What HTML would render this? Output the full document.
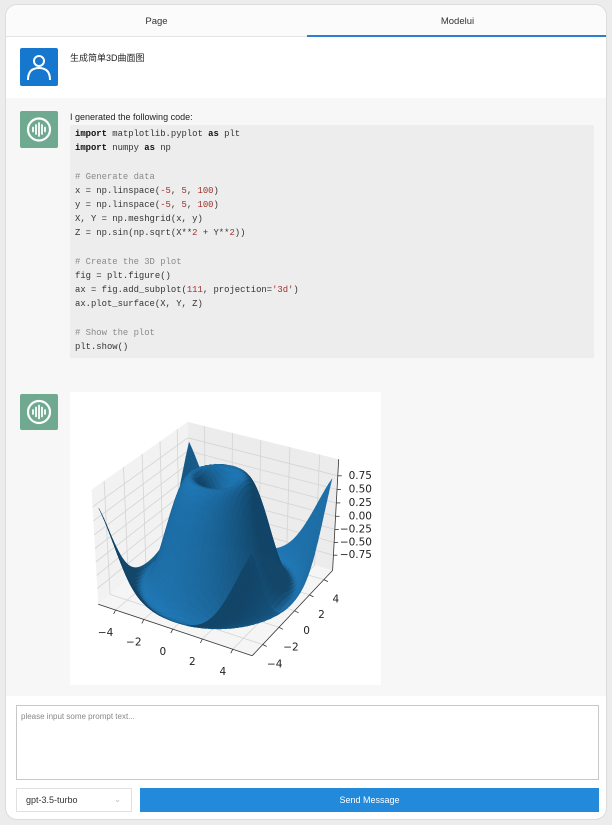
<!DOCTYPE html>
<html><head><meta charset="utf-8">
<style>
*{box-sizing:border-box;margin:0;padding:0}
body{width:612px;height:825px;background:#ececec;font-family:"Liberation Sans","Noto Sans CJK SC",sans-serif;position:relative;overflow:hidden}
#card{position:absolute;left:5px;top:4px;width:602px;height:816px;background:#fff;border-radius:12px;border:1px solid #dcdcdc;overflow:hidden}
.abs{position:absolute}
.tab{position:absolute;top:0;height:31px;width:301px;text-align:center;font-size:9.5px;line-height:34px;color:#333}
.code{position:absolute;left:64px;top:120px;width:524px;height:233px;background:#ededee}
.code pre{font-family:"Liberation Mono",monospace;font-size:8.9px;line-height:14.2px;color:#333;position:absolute;left:5px;top:2px}
.kw{font-weight:bold;color:#111}.cm{color:#8a8a8a}.nm{color:#a0302a}.st{color:#a0302a}
</style></head><body>
<div id="card">
  <div class="abs" style="left:0;top:0;width:602px;height:32px;border-bottom:1px solid #e4e4e4;background:#fbfbfb"></div>
  <div class="tab" style="left:0">Page</div>
  <div class="tab" style="left:301px">Modelui</div>
  <div class="abs" style="left:301px;top:30px;width:301px;height:2px;background:#2a7fd0"></div>

  <div class="abs" style="left:0;top:32px;width:602px;height:61px;background:#fff"></div>
  <div class="abs" style="left:14px;top:43px;width:38px;height:38px;background:#1677cf;border-radius:2px">
    <svg width="38" height="38"><circle cx="19" cy="13" r="5" fill="none" stroke="#fff" stroke-width="2"/><path d="M8 32 Q8 20 19 20 Q30 20 30 32" fill="none" stroke="#fff" stroke-width="2"/></svg>
  </div>
  <div class="abs" style="left:64px;top:46px;font-size:9px;color:#222">生成简单3D曲面图</div>

  <div class="abs" style="left:0;top:93px;width:602px;height:598px;background:#f7f7f8"></div>
  <div class="abs" style="left:14px;top:106px;width:38px;height:37px;background:#6fa98f;border-radius:2px">
    <svg width="38" height="37"><circle cx="19" cy="18.5" r="11" fill="none" stroke="#fff" stroke-width="2.2"/><g stroke="#fff" stroke-width="1.8" stroke-linecap="round"><line x1="13" y1="16.5" x2="13" y2="20.5"/><line x1="16" y1="14" x2="16" y2="23"/><line x1="19" y1="12" x2="19" y2="25"/><line x1="22" y1="14" x2="22" y2="23"/><line x1="25" y1="16.5" x2="25" y2="20.5"/></g></svg>
  </div>
  <div class="abs" style="left:64px;top:107px;font-size:9px;color:#222">I generated the following code:</div>
  <div class="code"><pre><span class="kw">import</span> matplotlib.pyplot <span class="kw">as</span> plt
<span class="kw">import</span> numpy <span class="kw">as</span> np

<span class="cm"># Generate data</span>
x = np.linspace(<span class="nm">-5</span>, <span class="nm">5</span>, <span class="nm">100</span>)
y = np.linspace(<span class="nm">-5</span>, <span class="nm">5</span>, <span class="nm">100</span>)
X, Y = np.meshgrid(x, y)
Z = np.sin(np.sqrt(X**<span class="nm">2</span> + Y**<span class="nm">2</span>))

<span class="cm"># Create the 3D plot</span>
fig = plt.figure()
ax = fig.add_subplot(<span class="nm">111</span>, projection=<span class="st">'3d'</span>)
ax.plot_surface(X, Y, Z)

<span class="cm"># Show the plot</span>
plt.show()</pre></div>

  <div class="abs" style="left:14px;top:389px;width:38px;height:36px;background:#6fa98f;border-radius:2px">
    <svg width="38" height="36"><circle cx="19" cy="18" r="11" fill="none" stroke="#fff" stroke-width="2.2"/><g stroke="#fff" stroke-width="1.8" stroke-linecap="round"><line x1="13" y1="16" x2="13" y2="20"/><line x1="16" y1="13.5" x2="16" y2="22.5"/><line x1="19" y1="11.5" x2="19" y2="24.5"/><line x1="22" y1="13.5" x2="22" y2="22.5"/><line x1="25" y1="16" x2="25" y2="20"/></g></svg>
  </div>
  <div class="abs" style="left:64px;top:387px;width:311px;height:293px;background:#fff"></div>

  <div class="abs" style="left:10px;top:700px;width:583px;height:75px;border:1px solid #c8c8c8;background:#fff;font-size:8px;color:#888;padding:6px 4px">please input some prompt text...</div>
  <div class="abs" style="left:10px;top:783px;width:116px;height:24px;border:1px solid #e0e0e0;background:#fff;font-size:9px;color:#333;line-height:22px;padding-left:9px">gpt-3.5-turbo<span style="position:absolute;right:10px;top:0;color:#bbb;font-size:8px">&#8964;</span></div>
  <div class="abs" style="left:134px;top:783px;width:459px;height:24px;background:#2389db;color:#fff;font-size:9px;text-align:center;line-height:24px">Send Message</div>
</div>

<svg id="chart" width="612" height="825" style="position:absolute;left:0;top:0;pointer-events:none"></svg>

<script>
const xTicks=[-4,-2,0,2,4];
const yTicks=[-4,-2,0,2,4];
const zTicks=[-0.75,-0.5,-0.25,0,0.25,0.5,0.75];
const zTickLabels=["−0.75","−0.50","−0.25","0.00","0.25","0.50","0.75"];
const xLim=[-5.25,5.25];
const yLim=[-5.25,5.25];
const zLim=[-1.05,1.05];
const gridN=50;
const gridMin=-5, gridMax=5;

const NS="http://www.w3.org/2000/svg";
const svg=document.getElementById('chart');
const ca=Math.cos(-60*Math.PI/180), sa=Math.sin(-60*Math.PI/180);
const ce=Math.cos(30*Math.PI/180), se=Math.sin(30*Math.PI/180);
const eye=[ce*ca,ce*sa,se], R=[-sa,ca,0], U=[-se*ca,-se*sa,ce];
const D=7,S=176,CX=218,CY=532;
function world(x,y,z){return [(x-xLim[0])/(xLim[1]-xLim[0])-0.5,(y-yLim[0])/(yLim[1]-yLim[0])-0.5,((z-zLim[0])/(zLim[1]-zLim[0])-0.5)*0.74];}
function dot(a,b){return a[0]*b[0]+a[1]*b[1]+a[2]*b[2];}
function proj(x,y,z){const P=world(x,y,z);const d=dot(P,eye);const k=D/(D-d);return [CX+S*dot(P,R)*k,CY-S*dot(P,U)*k,d];}
function mk(tag,attrs){const e=document.createElementNS(NS,tag);for(const k in attrs)e.setAttribute(k,attrs[k]);svg.appendChild(e);return e;}
function poly(pts){return pts.map(p=>p[0].toFixed(1)+','+p[1].toFixed(1)).join(' ');}

const x0=xLim[0],x1=xLim[1],y0=yLim[0],y1=yLim[1],z0=zLim[0],z1=zLim[1];
let p;
p=mk('polygon',{points:poly([proj(x0,y0,z0),proj(x0,y1,z0),proj(x0,y1,z1),proj(x0,y0,z1)]),fill:'#f2f2f2',stroke:'none'});

p=mk('polygon',{points:poly([proj(x0,y1,z0),proj(x1,y1,z0),proj(x1,y1,z1),proj(x0,y1,z1)]),fill:'#ececec',stroke:'none'});

p=mk('polygon',{points:poly([proj(x0,y0,z0),proj(x1,y0,z0),proj(x1,y1,z0),proj(x0,y1,z0)]),fill:'#f5f5f5',stroke:'none'});


function line(a,b,col,w,name){const l=mk('line',{x1:a[0].toFixed(1),y1:a[1].toFixed(1),x2:b[0].toFixed(1),y2:b[1].toFixed(1),stroke:col,'stroke-width':w});

return l;}
const gc='#d4d4d4';
xTicks.forEach(t=>{line(proj(t,y0,z0),proj(t,y1,z0),gc,0.8,'floor-gridline-x');line(proj(t,y1,z0),proj(t,y1,z1),gc,0.8,'back-gridline-x');});
yTicks.forEach(t=>{line(proj(x1,t,z0),proj(x0,t,z0),gc,0.8,'floor-gridline-y');line(proj(x0,t,z0),proj(x0,t,z1),gc,0.8,'left-gridline-y');});
zTicks.forEach(t=>{line(proj(x0,y0,t),proj(x0,y1,t),gc,0.8,'left-gridline-z');line(proj(x0,y1,t),proj(x1,y1,t),gc,0.8,'back-gridline-z');});

line(proj(x0,y0,z0),proj(x1,y0,z0),'#333',0.8,'x-axis-line');
line(proj(x1,y0,z0),proj(x1,y1,z0),'#333',0.8,'y-axis-line');
line(proj(x1,y1,z0),proj(x1,y1,z1),'#333',0.8,'z-axis-line');
function txt(s,x,y,anchor,name){const t=mk('text',{x:x.toFixed(1),y:y.toFixed(1),'text-anchor':anchor,'font-family':'DejaVu Sans, Liberation Sans, sans-serif','font-size':'10.5','fill':'#222','dominant-baseline':'middle'});t.textContent=s;

}
xTicks.forEach(t=>{const a=proj(t,y0,z0);line(a,[a[0]-2,a[1]+4],'#333',0.8,'x-tick');txt(String(t).replace('-','−'),a[0]-10,a[1]+23,'middle','x-tick-label');});
yTicks.forEach(t=>{const a=proj(x1,t,z0);line(a,[a[0]+4,a[1]+2],'#333',0.8,'y-tick');txt(String(t).replace('-','−'),a[0]+12,a[1]+20,'middle','y-tick-label');});
zTicks.forEach((t,i)=>{const a=proj(x1,y1,t);line(a,[a[0]+4,a[1]],'#333',0.8,'z-tick');txt(zTickLabels[i],372,a[1],'end','z-tick-label');});

const vals=[];for(let i=0;i<=gridN;i++)vals.push(gridMin+(gridMax-gridMin)*i/gridN);
function zf(x,y){return Math.sin(Math.sqrt(x*x+y*y));}
const L=(function(){const v=[-0.3,-0.6,0.75];const n=Math.hypot(...v);return v.map(c=>c/n);})();
const quads=[];
for(let i=0;i<gridN;i++)for(let j=0;j<gridN;j++){
  const xa=vals[i],xb=vals[i+1],ya=vals[j],yb=vals[j+1];
  const c=[[xa,ya],[xb,ya],[xb,yb],[xa,yb]].map(q=>[q[0],q[1],zf(q[0],q[1])]);
  const W=c.map(q=>world(q[0],q[1],q[2]));
  const e1=[W[2][0]-W[0][0],W[2][1]-W[0][1],W[2][2]-W[0][2]],e2=[W[3][0]-W[1][0],W[3][1]-W[1][1],W[3][2]-W[1][2]];
  let n=[e1[1]*e2[2]-e1[2]*e2[1],e1[2]*e2[0]-e1[0]*e2[2],e1[0]*e2[1]-e1[1]*e2[0]];
  const nl=Math.hypot(...n)||1;n=n.map(v=>v/nl);if(n[2]<0)n=n.map(v=>-v);
  const pr=c.map(q=>proj(q[0],q[1],q[2]));
  const depth=pr.reduce((s,q)=>s+q[2],0)/4;
  const f=Math.min(1.05,0.58+0.42*Math.max(0,dot(n,L)));
  quads.push({pr,depth,f});
}
quads.sort((a,b)=>a.depth-b.depth);
const g=mk('g',{});


quads.forEach(q=>{
  const col='rgb('+Math.round(31*q.f)+','+Math.round(119*q.f)+','+Math.min(255,Math.round(180*q.f))+')';
  const e=document.createElementNS(NS,'polygon');
  e.setAttribute('points',poly(q.pr));e.setAttribute('fill',col);e.setAttribute('stroke',col);e.setAttribute('stroke-width','0.4');
  
  
  g.appendChild(e);
});
</script>
</body></html>
